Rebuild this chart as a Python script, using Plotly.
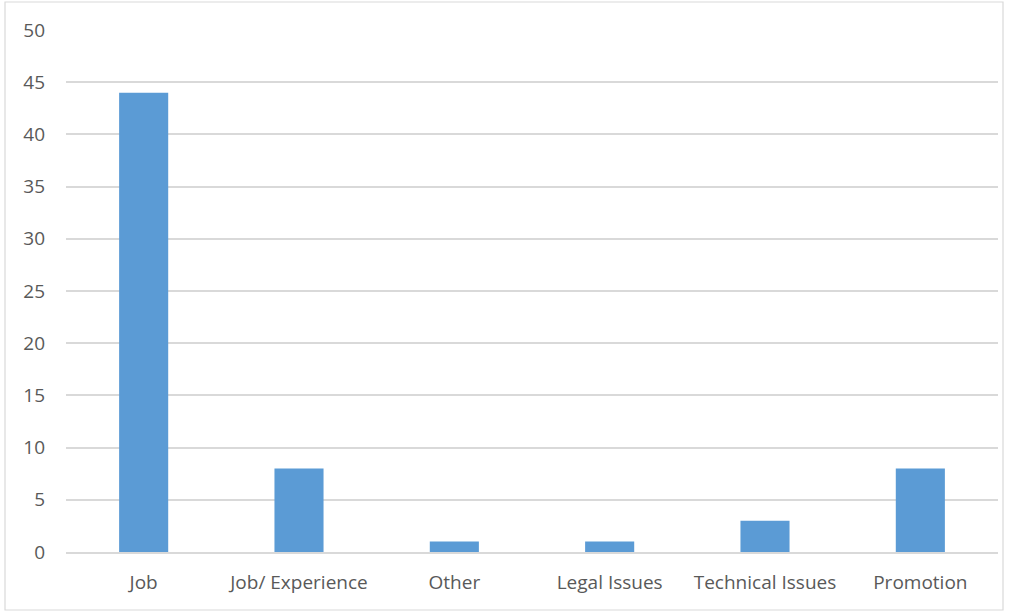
import plotly.graph_objects as go

categories = ["Job", "Job/ Experience", "Other", "Legal Issues", "Technical Issues", "Promotion"]
counts = [44, 8, 1, 1, 3, 8]
y_ticks = [0, 5, 10, 15, 20, 25, 30, 35, 40, 45, 50]

W, H = 1014, 611
L, R, T, B = 66, 16, 30, 59
pw, ph = W - L - R, H - T - B

fig = go.Figure(go.Bar(
    x=categories, y=counts,
    marker=dict(color="#5B9BD5", line=dict(width=0)),
    width=0.316,
))

grid = "#D9D9D9"
font = dict(family="Open Sans, Liberation Sans, sans-serif", size=19, color="#595959")

fig.update_layout(
    width=W, height=H,
    margin=dict(l=L, r=R, t=T, b=B),
    paper_bgcolor="white", plot_bgcolor="white",
    showlegend=False,
    font=font,
    xaxis=dict(
        showgrid=False, showline=True, linecolor=grid, linewidth=1.5,
        ticks="", ticklabelstandoff=12, tickfont=font,
    ),
    yaxis=dict(
        range=[0, 50], tickvals=y_ticks, showgrid=True, gridcolor=grid, gridwidth=1.5,
        zeroline=False, showline=False, ticks="", ticklabelstandoff=20, tickfont=font,
    ),
    shapes=[dict(
        type="rect", xref="paper", yref="paper",
        x0=(5 - L) / pw, x1=(1003 - L) / pw,
        y0=(H - B - 610) / ph, y1=(H - B - 2) / ph,
        line=dict(color="#D9D9D9", width=1.2), fillcolor="rgba(0,0,0,0)", layer="below",
    )],
)

fig.write_html("out.html")
